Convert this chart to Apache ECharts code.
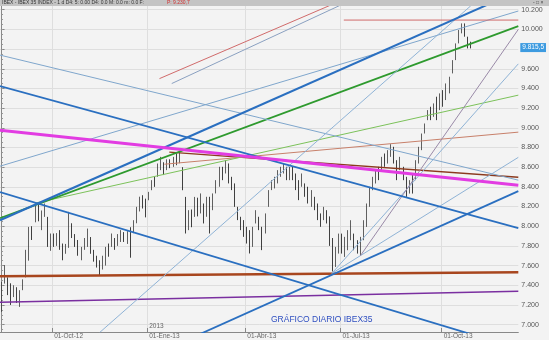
<!DOCTYPE html>
<html><head><meta charset="utf-8">
<script src="https://cdn.jsdelivr.net/npm/echarts@6/dist/echarts.min.js"></script>
<style>html,body{margin:0;padding:0;background:#f3f3f3}#c{width:549px;height:340px}</style>
</head><body><div id="c"></div>
<script>
// ---- data ----
const slotCount = 169; // each slot = 2 trading days
const xTickPos = [16.5, 47.5, 79.5, 110.5, 143.5];
const xTickLabels = ['01-Oct-12', '01-Ene-13', '01-Abr-13', '01-Jul-13', '01-Oct-13'];
const yearPos = [47.5];
const yearLabels = ['2013'];
const yTicks = [7000,7200,7400,7600,7800,8000,8200,8400,8600,8800,9000,9200,9400,9600,9800,10000,10200];
const yLabelValues = [7000,7200,7400,7600,7800,8000,8200,8400,8600,8800,9000,9200,9400,9600,10000,10200];
const lastPrice = 9815.5;
// [open, close, low, high]
const bars = [
[7180,7420,7130,7434],[7430,7540,7417,7604],[7460,7320,7300,7480],[7330,7250,7200,7420],[7270,7380,7280,7400],
[7360,7240,7220,7380],[7220,7330,7180,7350],[7360,7440,7350,7460],[7490,7740,7480,7760],[7720,7950,7650,7993],
[7960,7880,7860,8000],[8060,8190,8040,8214],[8200,8080,8050,8231],[8070,8120,7960,8160],[8120,8210,8095,8231],
[8090,7810,7790,8095],[7800,7900,7750,7926],[7890,7820,7790,7926],[7830,7900,7800,7930],[7920,7780,7760,7960],
[7800,7680,7654,7824],[7730,7800,7720,7820],[7800,8100,7780,8146],[8010,7900,7880,8030],[7900,7820,7790,7920],
[7830,7720,7700,7860],[7700,7770,7654,7790],[7770,7860,7760,7880],[7850,7940,7790,7976],[7880,7740,7720,7890],
[7740,7660,7640,7760],[7680,7600,7580,7700],[7620,7530,7500,7654],[7570,7680,7560,7700],[7650,7760,7600,7790],
[7760,7720,7690,7824],[7800,7900,7790,7926],[7870,7790,7760,7880],[7800,7900,7800,7920],[7880,7940,7840,7960],
[7930,7860,7840,7940],[7860,7920,7820,7950],[7920,7720,7680,7990],[7940,8040,7930,8061],[8040,8180,8030,8197],
[8170,8270,8150,8300],[8260,8200,8180,8315],[8200,8120,8090,8280],[8270,8330,8264,8349],[8380,8450,8366,8468],
[8450,8430,8400,8500],[8520,8620,8502,8637],[8620,8680,8570,8705],[8640,8560,8520,8650],[8580,8660,8570,8680],
[8660,8610,8590,8680],[8620,8690,8603,8705],[8680,8640,8620,8740],[8650,8730,8640,8756],[8590,8390,8366,8600],
[8280,7960,7926,8298],[7980,8130,7960,8163],[8140,8020,7990,8170],[8100,8270,8095,8298],[8260,8140,8100,8290],
[8150,8300,8130,8333],[8200,8060,8028,8231],[8100,8260,8096,8299],[8260,7960,7926,8299],[8180,8320,8163,8333],
[8340,8450,8333,8468],[8420,8580,8401,8604],[8580,8500,8468,8604],[8550,8650,8536,8672],[8630,8460,8435,8638],
[8480,8390,8367,8502],[8400,8220,8197,8435],[8190,8080,8062,8197],[8080,7990,7960,8096],[7990,7920,7892,8062],
[7930,7850,7824,7994],[7850,7760,7723,7960],[7780,7970,7790,7994],[8040,8140,8028,8163],[8090,7990,7960,8096],
[7980,7780,7757,7994],[7940,8110,7926,8130],[8210,8340,8197,8367],[8370,8440,8367,8468],[8440,8480,8384,8502],
[8460,8550,8435,8570],[8550,8580,8502,8604],[8570,8620,8536,8638],[8600,8500,8468,8604],[8510,8580,8468,8604],
[8580,8490,8468,8604],[8500,8400,8367,8536],[8400,8300,8265,8468],[8420,8510,8401,8536],[8420,8320,8299,8435],
[8360,8270,8231,8401],[8260,8330,8197,8367],[8280,8190,8163,8299],[8200,8090,8062,8231],[8100,8020,7994,8130],
[8070,8170,8062,8197],[8150,8060,8028,8163],[8060,7830,7800,8100],[7850,7580,7540,7880],[7600,7760,7586,7790],
[7740,7890,7722,7925],[7880,7760,7722,7925],[7760,7850,7688,7892],[7850,7930,7756,7960],[7900,8030,7858,8061],
[7900,7790,7756,7925],[7800,7760,7722,7858],[7740,7870,7705,7892],[7870,8040,7858,8061],[8040,8200,7993,8231],
[8210,8370,8197,8400],[8380,8470,8366,8502],[8470,8540,8434,8570],[8540,8500,8468,8604],[8580,8680,8570,8705],
[8680,8640,8604,8739],[8650,8750,8637,8773],[8740,8800,8705,8834],[8800,8660,8637,8807],[8650,8500,8468,8671],
[8520,8680,8570,8705],[8590,8490,8468,8604],[8480,8320,8298,8502],[8340,8440,8332,8468],[8440,8360,8332,8536],
[8480,8650,8468,8671],[8650,8790,8637,8807],[8790,8920,8773,8942],[8950,9020,8942,9044],[9090,9160,9078,9180],
[9160,9110,9078,9214],[9120,9230,9112,9248],[9230,9120,9078,9316],[9190,9330,9180,9350],[9320,9250,9214,9383],
[9290,9430,9282,9451],[9430,9500,9350,9519],[9560,9670,9553,9688],[9690,9840,9688,9858],[9860,9970,9858,9994],
[9970,10040,9960,10061],[10030,9950,9926,10061],[9920,9830,9807,9926],[9840,9815.5,9807,9875]
];
// trend lines: [[slot, price], [slot, price]]
const lnBrownH   = [[-0.5,7491],[168.5,7532]];
const lnPurple   = [[-0.5,7227],[168.5,7339]];
const lnMagenta  = [[-0.5,8976],[168.5,8417]];
const lnBrownDk  = [[54.7,8753],[168.5,8498]];
const lnSalmon   = [[53.1,8630],[168.5,8956]];
const lnGreen    = [[-0.5,8081],[168.5,10034]];
const lnGreenLt  = [[10.9,8234],[168.5,9332]];
const lnBlueUp   = [[-0.5,8061],[168.5,10390]];
const lnBlueDn   = [[-0.5,8346],[155.5,6880]];
const lnBlueMid  = [[-0.5,9424],[168.5,7980]];
const lnBlueLow  = [[64.5,6901],[168.5,8356]];
const lnSteelDn  = [[-0.5,9739],[168.5,8468]];
const lnSteelUp  = [[-0.5,8610],[168.5,10187]];
const lnRedH     = [[111.6,10095],[168.5,10095]];
const lnRedSteep = [[51.5,9500],[110.5,10290]];
const lnGraySteep= [[55.5,9450],[113.5,10290]];
const lnFan1     = [[32,6920],[153,10240]];
const lnFan2     = [[107.7,7520],[168.5,9650]];
const lnFan3     = [[107.7,7520],[168.5,8700]];
const lnChannel  = [[117,7700],[168.5,10000]];

// ---- chart ----
const chart = echarts.init(document.getElementById('c'), null, {renderer: 'canvas'});
const fmt = v => String(Math.round(v)).replace(/\B(?=(\d{3})+(?!\d))/g, '.');
const cats = Array.from({length: slotCount}, (_, i) => String(i));
const lineDefs = [
  [lnBrownH, '#a8461e', 2.6],
  [lnPurple, '#7a2fa0', 1.5],
  [lnBrownDk, '#8b3a1e', 1.4],
  [lnSalmon, '#c8806a', 1],
  [lnGreenLt, '#7cc25a', 1],
  [lnGreen, '#2e9a2e', 1.8],
  [lnSteelDn, '#7fa6cc', 1],
  [lnSteelUp, '#7fa6cc', 1],
  [lnFan1, '#8fb3d6', 1],
  [lnFan2, '#8fb3d6', 1],
  [lnFan3, '#8fb3d6', 1],
  [lnChannel, '#9a8aa8', 1],
  [lnRedH, '#d06a6a', 1],
  [lnRedSteep, '#d06a6a', 1],
  [lnGraySteep, '#8aa0c0', 1],
  [lnBlueMid, '#2a6fc0', 1.8],
  [lnBlueDn, '#2a6fc0', 1.8],
  [lnBlueLow, '#2a6fc0', 1.8],
  [lnBlueUp, '#2a6fc0', 2],
  [lnMagenta, '#e23ce2', 3]
];
const lineSeries = lineDefs.map(([d, c, w]) => ({
  type: 'line', xAxisIndex: 1, yAxisIndex: 0, data: d, symbol: 'none', silent: true,
  clip: true, lineStyle: {color: c, width: w}, z: 3, animation: false
}));
const yMin = 6925, yMax = 10238;
const minorTicks = [];
for (let v = 6950; v <= 10200; v += 50) minorTicks.push(v);

chart.setOption({
  animation: false,
  backgroundColor: '#f3f3f3',
  title: {
    text: 'GRÁFICO DIARIO IBEX35', left: 266, top: 310,
    textStyle: {color: '#2f4fc0', fontSize: 8.5, fontWeight: 'normal', fontFamily: 'Liberation Sans'}
  },
  grid: {left: 0, right: 29, top: 6, bottom: 8, containLabel: false},
  xAxis: [
    {type: 'category', data: cats, boundaryGap: true, axisLine: {show: true, lineStyle: {color: '#888', width: 1}},
     axisTick: {show: false}, axisLabel: {show: false}, splitLine: {show: false}},
    {type: 'value', min: -0.5, max: slotCount - 0.5, position: 'bottom',
     axisLine: {show: false},
     axisTick: {show: true, customValues: xTickPos, length: 4, inside: true, lineStyle: {color: '#888'}},
     axisLabel: {show: true, customValues: xTickPos, align: 'left', margin: 1, fontSize: 6.5, color: '#666',
       fontFamily: 'Liberation Sans', padding: [0,0,0,2],
       formatter: v => xTickLabels[xTickPos.indexOf(v)] || ''},
     splitLine: {show: true, lineStyle: {color: '#dedede', width: 1}}},
    {type: 'value', min: -0.5, max: slotCount - 0.5, position: 'bottom',
     axisLine: {show: false}, axisTick: {show: false},
     axisLabel: {show: true, inside: true, customValues: yearPos, align: 'left', margin: 2, fontSize: 6.5, color: '#666',
       fontFamily: 'Liberation Sans', padding: [0,0,0,2],
       formatter: v => yearLabels[yearPos.indexOf(v)] || ''},
     splitLine: {show: false}}
  ],
  yAxis: [
    {type: 'value', position: 'right', min: yMin, max: yMax, scale: true,
     axisLine: {show: true, lineStyle: {color: '#888'}},
     axisTick: {show: true, customValues: yTicks, length: 3, lineStyle: {color: '#888'}},
     axisLabel: {show: true, customValues: yLabelValues, margin: 3, fontSize: 7, color: '#555',
       fontFamily: 'Liberation Sans', formatter: fmt},
     splitLine: {show: true, lineStyle: {color: '#dedede', width: 1}}},
    {type: 'value', position: 'right', min: yMin, max: yMax,
     axisLine: {show: false},
     axisTick: {show: true, customValues: minorTicks, length: 1.5, lineStyle: {color: '#999'}},
     axisLabel: {show: false}, splitLine: {show: false}},
    {type: 'value', position: 'right', min: yMin, max: yMax,
     axisLine: {show: false}, axisTick: {show: false},
     axisLabel: {show: true, customValues: [lastPrice], margin: 2, fontSize: 6.5, color: '#fff',
       fontFamily: 'Liberation Sans', backgroundColor: '#3d9be0', padding: [1,2,1,2],
       formatter: v => '9.815,5'},
     splitLine: {show: false}}
  ],
  graphic: [
    {type: 'rect', left: 0, top: 0, shape: {width: 549, height: 6}, style: {fill: '#c4c4c4'}, z: 100},
    {type: 'text', left: 2, top: 0, z: 101, style: {text: 'IBEX - IBEX 35 INDEX - 1 d D4: 5: 0.00 D4: 0.0 M: 0.0 m: 0.0 F:', fontSize: 5, fill: '#333', fontFamily: 'Liberation Sans'}},
    {type: 'text', left: 167, top: 0, z: 101, style: {text: 'P: 9.230,7', fontSize: 5, fill: '#d03030', fontFamily: 'Liberation Sans'}},
    {type: 'text', left: 533, top: 0, z: 101, style: {text: '- □ ×', fontSize: 5, fill: '#444', fontFamily: 'Liberation Sans'}}
  ],
  series: [
    {type: 'candlestick', xAxisIndex: 0, yAxisIndex: 0, data: bars, barWidth: 1.2, z: 2,
     itemStyle: {color: '#8a8a8a', color0: '#111', borderColor: '#3a3a3a', borderColor0: '#111', borderWidth: 0.8}}
  ].concat(lineSeries)
});
</script>
</body></html>
